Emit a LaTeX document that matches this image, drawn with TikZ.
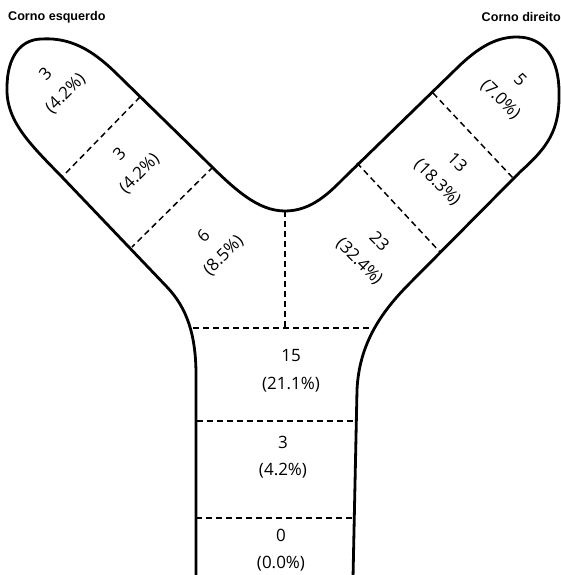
\documentclass[tikz,border=0pt]{standalone}
\usepackage{fontspec}
\setmainfont{Open Sans}
\newfontfamily\titlefont{Liberation Sans}
\tikzset{
  outline/.style={line width=2.8pt, line join=round, line cap=round},
  divider/.style={line width=1.5pt, dash pattern=on 6pt off 4pt},
  lbl/.style={align=center, inner sep=0pt, font=\fontsize{17}{27.5}\selectfont},
  ttl/.style={inner sep=0pt, font=\titlefont\bfseries\fontsize{12.6}{14}\selectfont}
}
\begin{document}
\begin{tikzpicture}[x=1pt,y=-1pt]
\useasboundingbox (0,0) rectangle (561,575);
% divider end points
\coordinate (a1) at (140,97);  \coordinate (a2) at (62,177);
\coordinate (b1) at (213,167); \coordinate (b2) at (132,247);
\coordinate (c1) at (433,93);  \coordinate (c2) at (513,178);
\coordinate (d1) at (357,163); \coordinate (d2) at (440,252);
\coordinate (v1) at (285,211); \coordinate (v2) at (285,328);
\coordinate (h1) at (193,328); \coordinate (h2) at (372,328);
\coordinate (i1) at (197,421); \coordinate (i2) at (356,421);
\coordinate (j1) at (196,518); \coordinate (j2) at (355,518);
\draw[divider] (a1) -- (a2);
\draw[divider] (b1) -- (b2);
\draw[divider] (c1) -- (c2);
\draw[divider] (d1) -- (d2);
\draw[divider] (v1) -- (v2);
\draw[divider] (h1) -- (h2);
\draw[divider] (i1) -- (i2);
\draw[divider] (j1) -- (j2);
% outline
\draw[outline] (196,578) -- (196,375)
  .. controls (196,335) and (187,308) .. (167,287)
  -- (62,177)
  .. controls (32,146) and (6,122) .. (7,88)
  .. controls (7,55) and (22,39) .. (42,39)
  .. controls (75,37) and (98,55) .. (120,77)
  -- (205,160)
  .. controls (235,190) and (258,211) .. (285,211)
  .. controls (312,211) and (330,192) .. (345,177)
  -- (455,70)
  .. controls (480,45) and (498,37) .. (517,37)
  .. controls (545,37) and (559,60) .. (559,92)
  .. controls (560,130) and (548,147) .. (520,172)
  -- (410,283)
  .. controls (380,313) and (359,345) .. (357,390)
  -- (353,578);
% labels
\node[lbl, rotate=45] (l1) at (56,84) {3\\(4.2\%)};
\node[lbl, rotate=45] (l2) at (130,164) {3\\(4.2\%)};
\node[lbl, rotate=45] (l3) at (214,246) {6\\(8.5\%)};
\node[lbl, rotate=-45] (r1) at (510,90) {5\\(7.0\%)};
\node[lbl, rotate=-45] (r2) at (447,173) {13\\(18.3\%)};
\node[lbl, rotate=-45] (r3) at (369,252) {23\\(32.4\%)};
\node[lbl] (t1) at (291,371) {15\\(21.1\%)};
\node[lbl] (t2) at (283,457) {3\\(4.2\%)};
\node[lbl] (t3) at (281,550) {0\\(0.0\%)};
\node[ttl, anchor=west] (ttlL) at (8,17) {Corno esquerdo};
\node[ttl, anchor=east] (ttlR) at (561,17) {Corno direito};
\end{tikzpicture}
\end{document}
